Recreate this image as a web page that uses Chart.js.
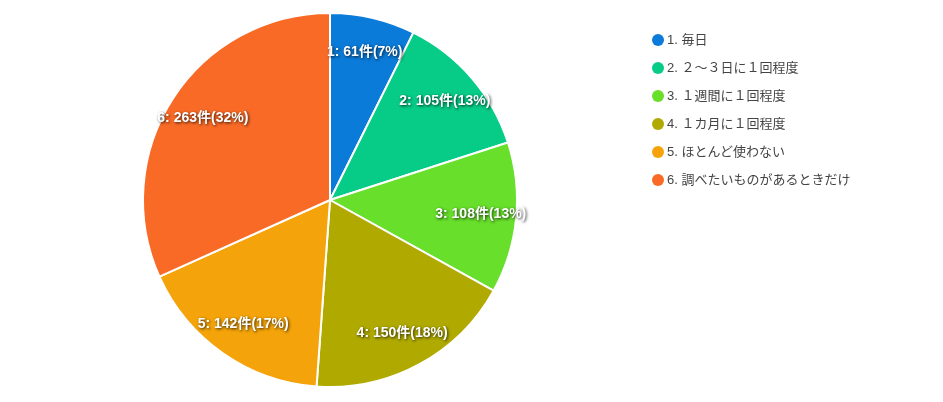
<!DOCTYPE html>
<html>
<head>
<meta charset="utf-8">
<script src="https://cdn.jsdelivr.net/npm/chart.js@4"></script>
<style>
  body { margin: 0; background: #fff; font-family: "Liberation Sans", "Noto Sans CJK JP", sans-serif; }
  #wrap { position: relative; width: 943px; height: 402px; }
  #legend { position: absolute; left: 652px; top: 31px; list-style: none; margin: 0; padding: 0; }
  #legend li { height: 28px; line-height: 18px; font-size: 13px; color: #444; display: flex; align-items: flex-start; }
  #legend span { display: inline-block; width: 12px; height: 12px; border-radius: 50%; margin: 3px 3px 0 0; }
</style>
</head>
<body>
<div id="wrap">
  <canvas id="pie" width="943" height="402"></canvas>
  <ul id="legend"></ul>
</div>
<script>
const categories = ['1. 毎日', '2. ２～３日に１回程度', '3. １週間に１回程度', '4. １カ月に１回程度', '5. ほとんど使わない', '6. 調べたいものがあるときだけ'];
const counts = [61, 105, 108, 150, 142, 263];
const colors = ['#0b7bd9', '#06cc88', '#67df2b', '#b0aa00', '#f4a40a', '#f96a26'];

const legend = document.getElementById('legend');
categories.forEach((c, i) => {
    const li = document.createElement('li');
    li.innerHTML = `<span style="background:${colors[i]}"></span>${c}`;
    legend.appendChild(li);
});

const total = counts.reduce((a, b) => a + b, 0);

// ラベル描画
const labelPlugin = {
    id: 'sliceLabels',
    afterDatasetsDraw(chart) {
        const ctx = chart.ctx;
        chart.getDatasetMeta(0).data.forEach((arc, i) => {
            const mid = (arc.startAngle + arc.endAngle) / 2;
            const r = arc.outerRadius * 0.81;
            const x = arc.x + Math.cos(mid) * r;
            const y = arc.y + Math.sin(mid) * r;
            const text = `${i + 1}: ${counts[i]}件(${Math.round(counts[i] / total * 100)}%)`;
            ctx.save();
            ctx.font = 'bold 14px "Liberation Sans", "Noto Sans CJK JP", sans-serif';
            ctx.textAlign = 'center';
            ctx.textBaseline = 'middle';
            ctx.shadowColor = 'rgba(0,0,0,0.8)';
            ctx.shadowBlur = 3;
            ctx.shadowOffsetX = 1;
            ctx.shadowOffsetY = 1;
            ctx.fillStyle = '#fff';
            ctx.fillText(text, x, y);
            ctx.restore();
        });
    }
};

new Chart(document.getElementById('pie'), {
    type: 'pie',
    data: {
        labels: categories,
        datasets: [{ data: counts, backgroundColor: colors, borderColor: '#fff', borderWidth: 2 }]
    },
    options: {
        responsive: false,
        animation: false,
        layout: { padding: { left: 0, right: 283, top: 12, bottom: 14 } },
        plugins: { legend: { display: false }, tooltip: { enabled: false } }
    },
    plugins: [labelPlugin]
});
</script>
</body>
</html>
